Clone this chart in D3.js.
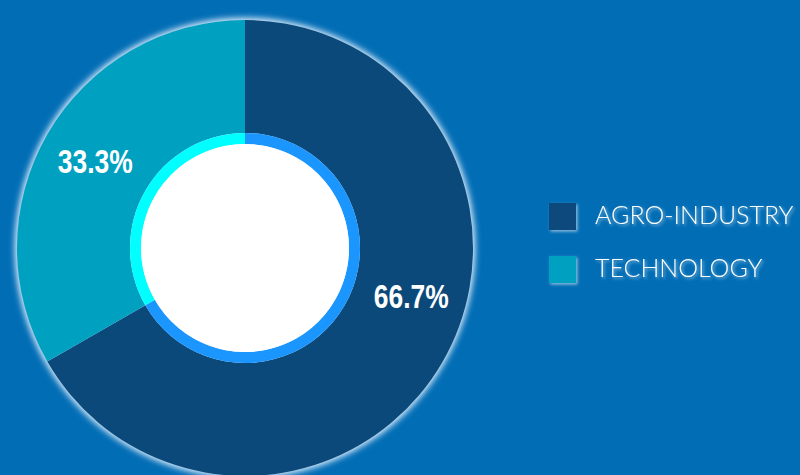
<!DOCTYPE html>
<html><head><meta charset="utf-8">
<script src="https://cdn.jsdelivr.net/npm/d3@7"></script>
<style>html,body{margin:0;padding:0;background:#016db5;overflow:hidden}</style>
</head><body>
<svg id="chart" width="800" height="475"></svg>
<script>
const categories = ["AGRO-INDUSTRY", "TECHNOLOGY"];
const values = [66.7, 33.3];
const labels = ["66.7%", "33.3%"];
const sliceColors = ["#0b497b", "#00a1c0"];
const ringColors = ["#1a96fe", "#00ffff"];

const W = 800, H = 475;
const cx = 245, cy = 248, rOuter = 228, rRing = 115, rHole = 104;
const svg = d3.select("#chart");
const defs = svg.append("defs");
const glow = defs.append("filter").attr("id","glow").attr("x","-20%").attr("y","-20%").attr("width","140%").attr("height","140%");
glow.append("feGaussianBlur").attr("stdDeviation", 3);
const tglow = defs.append("filter").attr("id","tglow").attr("x","-20%").attr("y","-40%").attr("width","140%").attr("height","180%");
tglow.append("feDropShadow").attr("dx",1.5).attr("dy",1.5).attr("stdDeviation",1.5).attr("flood-color","#ffffff").attr("flood-opacity",0.55);

svg.append("rect").attr("width",W).attr("height",H).attr("fill","#016db5");

const pie = d3.pie().sort(null).value(d => d)(values);
const g = svg.append("g").attr("transform", `translate(${cx},${cy})`);

// outer glow
g.append("circle").attr("r", rOuter + 2).attr("fill", "#e8f3ff").attr("filter","url(#glow)");

const arcOuter = d3.arc().innerRadius(rRing).outerRadius(rOuter);
const arcRing = d3.arc().innerRadius(rHole).outerRadius(rRing);
g.selectAll("path.slice").data(pie).join("path").attr("class","slice")
  .attr("d", arcOuter).attr("fill", (d,i) => sliceColors[i]);
g.selectAll("path.ring").data(pie).join("path").attr("class","ring")
  .attr("d", arcRing).attr("fill", (d,i) => ringColors[i]);
g.append("circle").attr("r", rHole).attr("fill", "#ffffff");

// labels
const labelShift = [-0.245, 0]; // radians nudge of label angle
const rLabel = 173;
const lx = (d,i) => rLabel * Math.sin((d.startAngle + d.endAngle)/2 + labelShift[i]);
const ly = (d,i) => -rLabel * Math.cos((d.startAngle + d.endAngle)/2 + labelShift[i]);
g.selectAll("text.lbl").data(pie).join("text").attr("class","lbl")
  .attr("transform", (d,i) => `translate(${lx(d,i)},${ly(d,i)}) scale(0.8,1)`)
  .attr("dy", "0.36em")
  .attr("text-anchor","middle")
  .attr("font-family","'Liberation Sans', Arial, sans-serif")
  .attr("font-weight","bold").attr("font-size", 33).attr("fill","#ffffff")
  .text((d,i) => labels[i]);

// legend
const legend = svg.append("g").attr("transform","translate(549,203)");
const li = legend.selectAll("g").data(categories).join("g")
  .attr("transform", (d,i) => `translate(0,${i*53})`);
li.append("rect").attr("width",27).attr("height",27)
  .attr("fill",(d,i) => sliceColors[i]).attr("filter","url(#tglow)");
li.append("text").attr("x",46).attr("y",21)
  .attr("font-family","Lato, 'Open Sans', sans-serif").attr("font-weight",300)
  .attr("font-size",25).attr("fill","#ffffff").attr("filter","url(#tglow)")
  .text(d => d);
</script>
</body></html>
